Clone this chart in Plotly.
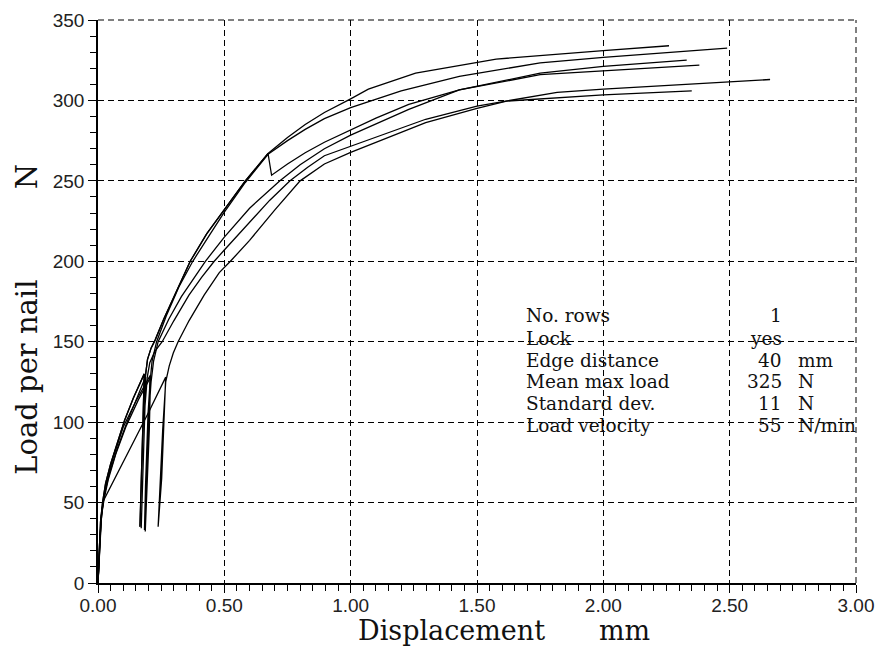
import plotly.graph_objects as go

# ---- data: six load-displacement records (displacement mm, load per nail N) ----
s1_x = [0, 0.004, 0.010, 0.018, 0.030, 0.050, 0.075, 0.105, 0.140, 0.183,
        0.178, 0.172, 0.166, 0.170, 0.180, 0.187, 0.196, 0.210, 0.226, 0.26, 0.30,
        0.365, 0.43, 0.50, 0.583, 0.673, 0.75, 0.82, 0.896, 1.0, 1.07, 1.257,
        1.5, 1.576, 2.0, 2.26]
s1_y = [0, 20, 38, 50, 62, 74, 87, 101, 115, 130,
        100, 65, 35, 60, 105, 128, 139, 146, 151, 164, 178,
        200, 217, 232, 250, 267, 277, 285, 292.5, 301, 307, 317,
        323.3, 325.7, 331, 334]

s2_x = [0, 0.004, 0.010, 0.018, 0.030, 0.050, 0.075, 0.105, 0.140, 0.183,
        0.178, 0.172, 0.166, 0.170, 0.180, 0.187, 0.196, 0.210, 0.226, 0.26, 0.30,
        0.365, 0.43, 0.50, 0.583, 0.673, 0.687, 0.75, 0.82, 0.896, 1.0, 1.1,
        1.23, 1.43, 1.75, 2.0, 2.33]
s2_y = [0, 20, 38, 50, 62, 74, 87, 101, 115, 130,
        100, 65, 35, 60, 105, 128, 139, 146, 151, 164, 178,
        200, 217, 232, 250, 267, 253.5, 260.5, 267.5, 274, 281.5, 289,
        297.5, 306.5, 317, 321.2, 325]

s3_x = [0, 0.005, 0.012, 0.020, 0.035, 0.060, 0.100, 0.150, 0.206,
        0.200, 0.192, 0.184, 0.188, 0.198, 0.206, 0.214, 0.232, 0.27, 0.32,
        0.375, 0.44, 0.50, 0.583, 0.673, 0.75, 0.82, 0.896, 1.0, 1.2,
        1.43, 1.75, 2.0, 2.49]
s3_y = [0, 22, 40, 50, 63, 78, 97, 113, 129,
        100, 60, 33, 60, 105, 125, 138, 150, 166, 184,
        200, 216, 230.5, 249, 266.5, 275, 282, 288.7, 295.5, 306,
        315, 323.3, 326.8, 332.5]

s4_x = [0, 0.006, 0.014, 0.024, 0.040, 0.070, 0.110, 0.160, 0.208,
        0.203, 0.195, 0.187, 0.191, 0.201, 0.210, 0.220, 0.238, 0.28, 0.33,
        0.38, 0.425, 0.50, 0.60, 0.72, 0.80, 0.896, 1.0, 1.23, 1.43,
        1.75, 2.0, 2.38]
s4_y = [0, 22, 42, 52, 64, 80, 97, 114, 128,
        95, 60, 32, 60, 105, 125, 138, 150, 164, 178,
        190, 200, 215, 233, 250, 260, 270, 278.4, 294.4, 306.5,
        316, 318.5, 322]

s5_x = [0, 0.006, 0.015, 0.025, 0.045, 0.075, 0.110, 0.150, 0.188,
        0.183, 0.177, 0.171, 0.175, 0.186, 0.195, 0.205, 0.225, 0.254, 0.30,
        0.36, 0.41, 0.46, 0.50, 0.60, 0.68, 0.76, 0.83, 0.896, 1.0,
        1.297, 1.5, 1.617, 1.817, 2.0, 2.66]
s5_y = [0, 24, 44, 55, 68, 83, 98, 113, 128,
        95, 60, 34, 60, 110, 128, 137, 144, 150, 163,
        179, 190, 200, 207, 224, 238, 250, 258.5, 265.6, 271.4,
        288.3, 296.5, 299.6, 305, 307, 313]

s6_x = [0, 0.005, 0.012, 0.021, 0.060, 0.120, 0.200, 0.268,
        0.262, 0.252, 0.238, 0.243, 0.256, 0.268, 0.282, 0.298, 0.317, 0.36,
        0.42, 0.48, 0.524, 0.60, 0.70, 0.80, 0.896, 1.0, 1.297, 1.5,
        1.617, 2.0, 2.35]
s6_y = [0, 20, 38, 51, 63, 82, 106, 128,
        100, 65, 35, 55, 95, 125, 135, 143, 150, 163,
        179, 193, 200, 213, 232, 250, 260.5, 267.7, 286.2, 295,
        299.6, 303.5, 306]

records = [(s1_x, s1_y), (s2_x, s2_y), (s3_x, s3_y),
           (s4_x, s4_y), (s5_x, s5_y), (s6_x, s6_y)]

info_labels = ["No. rows", "Lock", "Edge distance", "Mean max load",
               "Standard dev.", "Load velocity"]
info_values = ["1", "yes", "40", "325", "11", "55"]
info_units = ["", "", "mm", "N", "N", "N/min"]

x_title_main, x_title_unit = "Displacement", "mm"
y_title_main, y_title_unit = "Load per nail", "N"

# ---- figure ----
fig = go.Figure()
for xs, ys in records:
    fig.add_trace(go.Scatter(x=xs, y=ys, mode="lines",
                             line=dict(color="black", width=1.3),
                             showlegend=False, hoverinfo="skip"))

tick_font = dict(family="Liberation Sans Narrow, Liberation Sans, Arial", size=19, color="#222")
serif = "DejaVu Serif, Liberation Serif, serif"

axis_common = dict(
    showgrid=True, gridcolor="black", gridwidth=1, griddash="6px,4px",
    showline=True, linecolor="black", linewidth=1.5,
    ticks="outside", tickcolor="black", tickwidth=1,
    zeroline=False, tickfont=tick_font, mirror=False, automargin=False,
)

fig.update_xaxes(range=[0, 3], tick0=0, dtick=0.5, tickformat=".2f", ticklen=8,
                 ticklabelstandoff=-4,
                 minor=dict(dtick=0.05, ticks="outside", ticklen=6,
                            tickcolor="black", showgrid=False),
                 **axis_common)
fig.update_yaxes(range=[0, 350], tick0=0, dtick=50, ticklen=8,
                 minor=dict(dtick=10, ticks="outside", ticklen=6,
                            tickcolor="black", showgrid=False),
                 **axis_common)

# dashed frame on top and right (grid lines at range ends)
fig.add_shape(type="line", xref="paper", yref="paper", x0=0, x1=1, y0=1, y1=1,
              line=dict(color="black", width=1, dash="6px,4px"))
fig.add_shape(type="line", xref="paper", yref="paper", x0=1, x1=1, y0=0, y1=1,
              line=dict(color="black", width=1, dash="6px,4px"))

ytitle_font = dict(family=serif, size=29, color="#111")
xtitle_font = dict(family=serif, size=27, color="#111")
annotations = [
    dict(text=y_title_main, xref="paper", yref="paper", x=-0.094, y=0.366,
         xanchor="center", yanchor="middle", textangle=-90, showarrow=False,
         font=ytitle_font),
    dict(text=y_title_unit, xref="paper", yref="paper", x=-0.094, y=0.722,
         xanchor="center", yanchor="middle", textangle=-90, showarrow=False,
         font=ytitle_font),
    dict(text=x_title_main, xref="paper", yref="paper", x=0.466, y=-0.085,
         xanchor="center", yanchor="middle", showarrow=False, font=xtitle_font,
         borderpad=0),
    dict(text=x_title_unit, xref="paper", yref="paper", x=0.695, y=-0.085,
         xanchor="center", yanchor="middle", showarrow=False, font=xtitle_font,
         borderpad=0),
]

row_y = [166, 152.3, 138.6, 125, 111.3, 97.7]
info_font = dict(family=serif, size=18.5, color="#111")
for lab, val, unit, yy in zip(info_labels, info_values, info_units, row_y):
    annotations.append(dict(text=lab, x=1.69, y=yy, xref="x", yref="y",
                            xanchor="left", yanchor="middle", showarrow=False,
                            font=info_font, borderpad=0))
    annotations.append(dict(text=val, x=2.71, y=yy, xref="x", yref="y",
                            xanchor="right", yanchor="middle", showarrow=False,
                            font=info_font, borderpad=0))
    if unit:
        annotations.append(dict(text=unit, x=2.765, y=yy, xref="x", yref="y",
                                xanchor="left", yanchor="middle", showarrow=False,
                                font=info_font, borderpad=0))

# page body has an 8px margin: size/margins chosen so the plot area sits at
# x 98..856, y 20..583 of the window
fig.update_layout(
    width=872, height=639,
    margin=dict(l=90, r=24, t=12, b=64, autoexpand=False),
    paper_bgcolor="white", plot_bgcolor="white",
    annotations=annotations,
    showlegend=False,
)

fig.write_html("out.html")
